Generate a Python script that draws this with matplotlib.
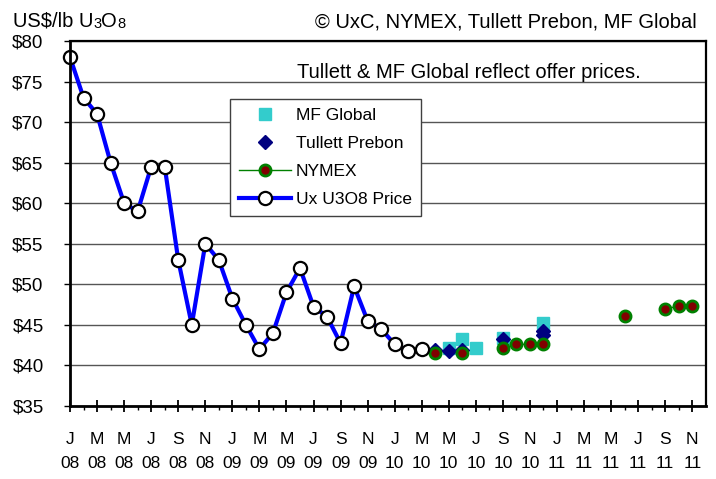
import numpy as np
import matplotlib
matplotlib.use("Agg")
import matplotlib.pyplot as plt
from matplotlib.ticker import MultipleLocator, FuncFormatter

plt.rcParams['font.family'] = ['Liberation Sans', 'DejaVu Sans']

# month index 0 = Jan 08
month_letters = ['J', 'M', 'M', 'J', 'S', 'N'] * 4
year_labels = ['08'] * 6 + ['09'] * 6 + ['10'] * 6 + ['11'] * 6

# Ux U3O8 month-end price, Jan 08 .. Mar 10
ux_price = [78, 73, 71, 65, 60, 59, 64.5, 64.5, 53, 45, 55, 53,
            48.25, 45, 42, 44, 49, 52, 47.25, 46, 42.75, 49.75, 45.5, 44.5,
            42.6, 41.75, 42]

nymex_month = [27, 29, 32, 33, 34, 35, 41, 44, 45, 46]
nymex_price = [41.5, 41.5, 42.1, 42.6, 42.6, 42.6, 46.05, 47.0, 47.3, 47.3]

tullett_month = [27, 28, 29, 32, 35, 35]
tullett_price = [41.9, 41.8, 41.9, 43.2, 43.7, 44.2]

mf_month = [28, 29, 30, 32, 35]
mf_price = [42.15, 43.25, 42.2, 43.4, 45.2]

fig = plt.figure(figsize=(7.16, 4.79), dpi=100)
ax = fig.add_axes([0.0978, 0.1524, 0.888, 0.762])

ax.set_xlim(0, 47)
ax.set_ylim(35, 80)
ax.yaxis.set_major_locator(MultipleLocator(5))
ax.yaxis.set_major_formatter(FuncFormatter(lambda v, p: f"${v:.0f}"))
ax.grid(axis='y', color='#555555', linewidth=1)
ax.set_axisbelow(True)

ax.set_xticks(np.arange(0, 47, 2))
ax.set_xticklabels([f"{m}\n{y}" for m, y in zip(month_letters, year_labels)],
                   linespacing=1.8)
ax.set_xticks(np.arange(1, 47, 2), minor=True)
ax.tick_params(axis='x', which='major', direction='inout', length=9, width=1.3,
               labelsize=12.5, pad=14)
ax.tick_params(axis='x', which='minor', direction='out', length=3, width=1)
ax.tick_params(axis='y', which='major', direction='out', length=4, width=1,
               labelsize=13.5, pad=15)
for s in ax.spines.values():
    s.set_linewidth(1.6)
ax.spines['bottom'].set_linewidth(2)
ax.spines['left'].set_linewidth(2)

# monthly NYMEX series with gaps so only consecutive months are joined
nymex_full = np.full(47, np.nan)
nymex_full[nymex_month] = nymex_price

ax.plot(mf_month, mf_price, linestyle='none', marker='s', markersize=8,
        color='#33CCCC', label='MF Global', clip_on=False)
ax.plot(tullett_month, tullett_price, linestyle='none', marker='D', markersize=7.5,
        color='#000080', label='Tullett Prebon', clip_on=False)
ax.plot(np.arange(47), nymex_full, color='#008000', linewidth=1, marker='o',
        markersize=8, markerfacecolor='#800000', markeredgecolor='#008000',
        markeredgewidth=2, label='NYMEX', clip_on=False)
ax.plot(np.arange(len(ux_price)), ux_price, color='#0000FF', linewidth=3,
        marker='o', markersize=9.5, markerfacecolor='white',
        markeredgecolor='black', markeredgewidth=1.6, label='Ux U3O8 Price',
        clip_on=False)

leg = ax.legend(loc='upper left', bbox_to_anchor=(230 / 716, 1 - 99 / 479),
                bbox_transform=fig.transFigure, borderaxespad=0, fontsize=12.5,
                frameon=True, fancybox=False, framealpha=1, edgecolor='#404040',
                handlelength=3.0, handletextpad=0.3, labelspacing=0.74,
                borderpad=0.5, numpoints=1)
leg.get_frame().set_linewidth(1)

ax.text(0.628, 0.915, 'Tullett & MF Global reflect offer prices.',
        transform=ax.transAxes, ha='center', va='center', fontsize=14.5)

# header: US$/lb U3O8 with small digits
t1 = fig.text(13 / 716, 1 - 27 / 479, 'US$/lb U', fontsize=14.5, va='baseline')
t2 = ax.annotate('3', xy=(1, 0), xycoords=t1, fontsize=10.5, va='bottom',
                 annotation_clip=False)
t3 = ax.annotate('O', xy=(1, 0), xycoords=t2, fontsize=14.5, va='bottom',
                 annotation_clip=False)
ax.annotate('8', xy=(1, 0), xycoords=t3, fontsize=10.5, va='bottom',
            annotation_clip=False)
fig.text(697 / 716, 1 - 27 / 479, '\u00a9 UxC, NYMEX, Tullett Prebon, MF Global',
         fontsize=14.5, ha='right', va='baseline')

fig.savefig('out.png', dpi=100)
